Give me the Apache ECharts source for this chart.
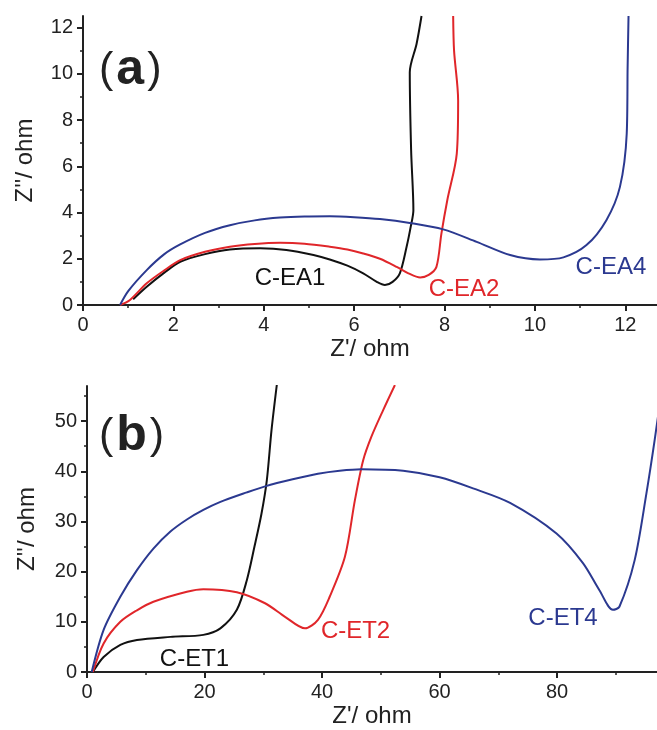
<!DOCTYPE html>
<html><head><meta charset="utf-8">
<script src="https://cdn.jsdelivr.net/npm/echarts@6/dist/echarts.min.js"></script>
<style>html,body{margin:0;padding:0;background:#fff}#c{width:657px;height:730px}</style>
</head><body><div id="c"></div>
<script>
// Panel (a) data: [Z', Z'']
const cEA1 = [[1.11,0.25],[1.41,0.79],[1.8,1.4],[2.15,1.87],[2.7,2.2],[3.25,2.40],[3.92,2.45],[4.5,2.38],[5.10,2.16],[5.46,1.97],[5.85,1.70],[6.20,1.37],[6.5,1.0],[6.68,0.86],[6.85,1.0],[7.01,1.37],[7.16,2.52],[7.25,3.38],[7.31,4.10],[7.26,6.69],[7.23,10.07],[7.38,11.29],[7.49,12.5]];
const cEA2 = [[0.82,0],[1.04,0.22],[1.41,0.94],[1.8,1.5],[2.15,1.94],[2.7,2.3],[3.25,2.52],[3.8,2.64],[4.36,2.69],[4.9,2.65],[5.46,2.52],[5.85,2.4],[6.20,2.23],[6.57,2.0],[6.94,1.65],[7.2,1.37],[7.46,1.19],[7.65,1.3],[7.82,1.65],[7.93,3.09],[8.06,4.53],[8.27,6.55],[8.30,8.85],[8.21,11.0],[8.19,12.5]];
const cEA4 = [[0.82,0],[1.0,0.6],[1.41,1.51],[1.8,2.2],[2.15,2.62],[2.7,3.12],[3.25,3.45],[3.8,3.66],[4.36,3.78],[4.9,3.83],[5.46,3.84],[6.0,3.8],[6.57,3.72],[7.23,3.55],[7.97,3.27],[8.71,2.73],[9.45,2.16],[10.11,1.97],[10.63,2.06],[11.14,2.59],[11.58,3.67],[11.88,5.11],[12.03,7.41],[12.05,10.29],[12.07,12.5]];
// Panel (b) data
const cET1 = [[1,0],[2.83,3.0],[5.67,5.4],[8.5,6.4],[14.2,7.0],[19.8,7.4],[22.7,8.7],[25.5,12.4],[27.2,18.3],[28.5,25.0],[29.7,31.6],[30.6,38.2],[31.4,48.2],[32.3,57.2]];
const cET2 = [[1,0],[2.83,5.7],[5.67,10.0],[8.5,12.3],[11.3,14.0],[17.0,16.0],[19.8,16.5],[25.5,15.9],[30.3,13.7],[33.7,11.0],[37.1,8.7],[39.3,10.4],[41.3,15.0],[43.9,23.0],[45.6,34.3],[47.0,42.2],[48.4,46.9],[50.4,52.2],[52.4,57.2]];
const cET4 = [[0.8,0],[2.83,8.4],[5.67,15.0],[8.5,20.3],[11.3,24.6],[14.2,28.0],[17.0,30.4],[19.8,32.3],[22.7,33.9],[27.2,35.8],[30.3,37.0],[35.0,38.4],[39.3,39.5],[43.0,40.1],[46.7,40.4],[53.8,40.1],[60.0,38.8],[65.7,36.6],[72.0,33.7],[79.9,27.6],[84.4,21.7],[87.2,16.3],[89.5,12.4],[90.6,13.0],[93.2,22.3],[95.2,35.6],[96.6,46.2],[98,58]];

// Curve labels and their positions (data coordinates)
const aNames = ['C-EA1','C-EA2','C-EA4'];
const aNamePos = [[4.58,1.17],[8.43,0.69],[11.68,1.62]];
const bNames = ['C-ET1','C-ET2','C-ET4'];
const bNamePos = [[18.3,2.5],[45.7,8.0],[81.0,10.6]];

// Axis ranges and ticks
const aXRange = [0,12.7], aYRange = [0,12.5];
const bXRange = [0,97], bYRange = [0,57];
const aXTicks = [0,2,4,6,8,10,12], aXMinor = [1,3,5,7,9,11];
const aYTicks = [0,2,4,6,8,10,12], aYMinor = [1,3,5,7,9,11];
const bXTicks = [0,20,40,60,80], bXMinor = [10,30,50,70,90];
const bYTicks = [0,10,20,30,40,50], bYMinor = [5,15,25,35,45,55];
const xTitle = "Z'/ ohm", yTitle = "Z''/ ohm";
const panelTags = ['a','b'];

const colors = ['#111111','#e0262a','#2b3990'];
const FONT = "'Liberation Sans', Arial, sans-serif";

function major(dim, grid, range, ticks, nameGap) {
  return {
    type:'value', gridIndex:grid, min:range[0], max:range[1],
    position: dim==='x' ? 'bottom' : 'left',
    name: dim==='x' ? xTitle : yTitle, nameLocation:'middle', nameGap:nameGap,
    nameTextStyle:{fontFamily:FONT, fontSize:24, color:'#222'},
    axisLine:{show:true, onZero:false, lineStyle:{color:'#222', width:2}},
    axisTick:{show:true, length:6, customValues:ticks, lineStyle:{color:'#222', width:2}},
    axisLabel:{show:true, customValues:ticks, margin:10, fontFamily:FONT, fontSize:20, color:'#222'},
    splitLine:{show:false}, minorTick:{show:false}
  };
}
function minor(dim, grid, range, ticks) {
  return {
    type:'value', gridIndex:grid, min:range[0], max:range[1],
    position: dim==='x' ? 'bottom' : 'left',
    axisLine:{show:false, onZero:false},
    axisTick:{show:true, length:3, customValues:ticks, lineStyle:{color:'#222', width:1.5}},
    axisLabel:{show:false}, splitLine:{show:false}
  };
}
function lineSeries(data, xi, yi, color) {
  return {type:'line', data:data, xAxisIndex:xi, yAxisIndex:yi, showSymbol:false, symbol:'none',
    smooth:0.3, lineStyle:{color:color, width:2}, clip:true, silent:true, animation:false};
}
function labelSeries(names, pos, xi, yi) {
  return {type:'scatter', xAxisIndex:xi, yAxisIndex:yi, symbolSize:0, silent:true, animation:false,
    itemStyle:{opacity:1},
    data: names.map((n,i)=>({value:[pos[i][0], pos[i][1], n],
      label:{show:true, position:'inside', formatter:p=>p.value[2], color:colors[i], opacity:1,
        fontFamily:FONT, fontSize:24}}))};
}

const chart = echarts.init(document.getElementById('c'), null, {renderer:'canvas'});
chart.setOption({
  backgroundColor:'#fff',
  animation:false,
  grid:[
    {left:83, top:16, right:0, height:289, containLabel:false},
    {left:87, top:386, right:0, height:286, containLabel:false}
  ],
  xAxis:[
    major('x',0,aXRange,aXTicks,32), minor('x',0,aXRange,aXMinor),
    major('x',1,bXRange,bXTicks,32), minor('x',1,bXRange,bXMinor)
  ],
  yAxis:[
    major('y',0,aYRange,aYTicks,46), minor('y',0,aYRange,aYMinor),
    major('y',1,bYRange,bYTicks,48), minor('y',1,bYRange,bYMinor)
  ],
  graphic:[
    {type:'text', left:99, top:45, style:{text:'{p|(}{b|'+panelTags[0]+'}{p|)}', rich:{
      p:{fontFamily:FONT, fontSize:43, fill:'#222'}, b:{fontFamily:FONT, fontSize:50, fontWeight:'bold', fill:'#222', padding:[0,3,0,3]}}}},
    {type:'text', left:99, top:411, style:{text:'{p|(}{b|'+panelTags[1]+'}{p|)}', rich:{
      p:{fontFamily:FONT, fontSize:43, fill:'#222'}, b:{fontFamily:FONT, fontSize:50, fontWeight:'bold', fill:'#222', padding:[0,3,0,3]}}}}
  ],
  series:[
    lineSeries(cEA1,0,0,colors[0]), lineSeries(cEA2,0,0,colors[1]), lineSeries(cEA4,0,0,colors[2]),
    lineSeries(cET1,2,2,colors[0]), lineSeries(cET2,2,2,colors[1]), lineSeries(cET4,2,2,colors[2]),
    labelSeries(aNames,aNamePos,0,0), labelSeries(bNames,bNamePos,2,2)
  ]
});
</script></body></html>
